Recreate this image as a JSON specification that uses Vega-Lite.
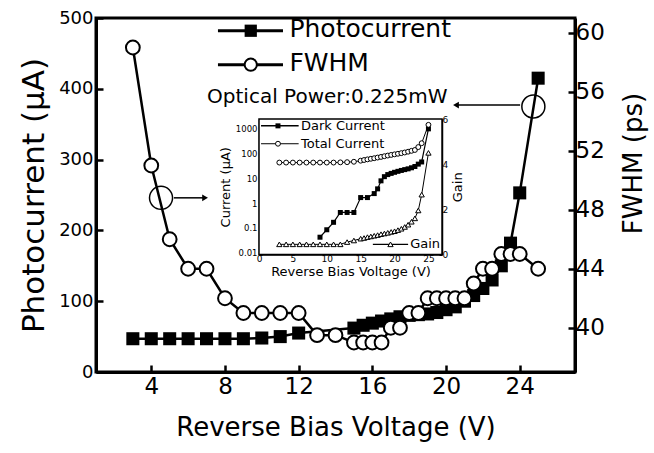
{
  "$schema": "https://vega.github.io/schema/vega-lite/v6.json",
  "width": 479,
  "height": 354,
  "autosize": {"type": "none"},
  "padding": {"left": 96, "top": 18, "right": 79, "bottom": 81},
  "background": "white",
  "config": {
    "font": "DejaVu Sans",
    "view": {"stroke": "black", "strokeWidth": 3},
    "axis": {"grid": false, "domainColor": "black", "tickColor": "black", "labelColor": "black", "titleColor": "black", "titleFontWeight": "normal", "labelFlush": false, "labelOverlap": false}
  },
  "datasets": {
    "photo": [{"V":3,"I":47},{"V":4,"I":47},{"V":5,"I":47},{"V":6,"I":47},{"V":7,"I":47},{"V":8,"I":47},{"V":9,"I":47},{"V":10,"I":48},{"V":11,"I":50},{"V":12,"I":55},{"V":15,"I":62},{"V":15.5,"I":66},{"V":16,"I":69},{"V":16.5,"I":72},{"V":17,"I":75},{"V":17.5,"I":78},{"V":18,"I":80},{"V":18.5,"I":81},{"V":19,"I":82},{"V":19.5,"I":84},{"V":20,"I":88},{"V":20.5,"I":92},{"V":21,"I":100},{"V":21.5,"I":108},{"V":22,"I":118},{"V":22.5,"I":130},{"V":23,"I":150},{"V":23.5,"I":182},{"V":24,"I":253},{"V":25,"I":415}],
    "fwhm": [{"V":3,"F":59},{"V":4,"F":51},{"V":5,"F":46},{"V":6,"F":44},{"V":7,"F":44},{"V":8,"F":42},{"V":9,"F":41},{"V":10,"F":41},{"V":11,"F":41},{"V":12,"F":41},{"V":13,"F":39.5},{"V":14,"F":39.5},{"V":15,"F":39},{"V":15.5,"F":39},{"V":16,"F":39},{"V":16.5,"F":39},{"V":17,"F":40},{"V":17.5,"F":40},{"V":18,"F":41},{"V":18.5,"F":41},{"V":19,"F":42},{"V":19.5,"F":42},{"V":20,"F":42},{"V":20.5,"F":42},{"V":21,"F":42},{"V":21.5,"F":43},{"V":22,"F":44},{"V":22.5,"F":44},{"V":23,"F":45},{"V":23.5,"F":45},{"V":24,"F":45},{"V":25,"F":44}],
    "dark": [{"V":9,"I":0.05},{"V":10,"I":0.1},{"V":11,"I":0.2},{"V":12,"I":0.5},{"V":13,"I":0.5},{"V":14,"I":0.5},{"V":15,"I":2},{"V":16,"I":2},{"V":17,"I":2.9},{"V":17.5,"I":4.5},{"V":18,"I":9.5},{"V":18.5,"I":14},{"V":19,"I":17},{"V":19.5,"I":19},{"V":20,"I":21},{"V":20.5,"I":23},{"V":21,"I":25},{"V":21.5,"I":27},{"V":22,"I":29},{"V":22.5,"I":32},{"V":23,"I":36},{"V":23.5,"I":45},{"V":24,"I":55},{"V":25,"I":1200}],
    "total": [{"V":3,"I":52},{"V":4,"I":52},{"V":5,"I":52},{"V":6,"I":52},{"V":7,"I":52},{"V":8,"I":52},{"V":9,"I":52},{"V":10,"I":52},{"V":11,"I":52},{"V":12,"I":53},{"V":13,"I":54},{"V":14,"I":56},{"V":15,"I":62},{"V":15.5,"I":66},{"V":16,"I":70},{"V":16.5,"I":74},{"V":17,"I":78},{"V":17.5,"I":83},{"V":18,"I":88},{"V":18.5,"I":94},{"V":19,"I":100},{"V":19.5,"I":106},{"V":20,"I":112},{"V":20.5,"I":118},{"V":21,"I":125},{"V":21.5,"I":133},{"V":22,"I":143},{"V":22.5,"I":155},{"V":23,"I":168},{"V":23.5,"I":220},{"V":24,"I":315},{"V":25,"I":1740}],
    "gain": [{"V":3,"G":0.45},{"V":4,"G":0.45},{"V":5,"G":0.45},{"V":6,"G":0.45},{"V":7,"G":0.45},{"V":8,"G":0.45},{"V":9,"G":0.45},{"V":10,"G":0.45},{"V":11,"G":0.45},{"V":12,"G":0.45},{"V":13,"G":0.55},{"V":14,"G":0.62},{"V":15,"G":0.7},{"V":15.5,"G":0.73},{"V":16,"G":0.77},{"V":16.5,"G":0.8},{"V":17,"G":0.83},{"V":17.5,"G":0.86},{"V":18,"G":0.9},{"V":18.5,"G":0.93},{"V":19,"G":0.96},{"V":19.5,"G":1.0},{"V":20,"G":1.03},{"V":20.5,"G":1.08},{"V":21,"G":1.14},{"V":21.5,"G":1.22},{"V":22,"G":1.32},{"V":22.5,"G":1.45},{"V":23,"G":1.6},{"V":23.5,"G":1.95},{"V":24,"G":2.65},{"V":25,"G":4.5}]
  },
  "layer": [
    {
      "layer": [
        {
          "layer": [
            {"data": {"name": "photo"}, "mark": {"type": "line", "color": "black", "strokeWidth": 2.5},
              "encoding": {
                "x": {"field": "V", "type": "quantitative", "scale": {"domain": [1, 27], "nice": false, "zero": false},
                  "axis": {"orient": "bottom", "values": [4, 8, 12, 16, 20, 24], "title": "Reverse Bias Voltage (V)", "tickSize": -7, "tickWidth": 2.5, "domainWidth": 3, "labelFontSize": 23, "labelPadding": 10, "titleFontSize": 26, "titlePadding": 16}},
                "y": {"field": "I", "type": "quantitative", "scale": {"domain": [0, 500], "nice": false},
                  "axis": {"orient": "left", "values": [0, 100, 200, 300, 400, 500], "title": "Photocurrent (μA)", "tickSize": -7, "tickWidth": 2.5, "domainWidth": 3, "labelFontSize": 18, "labelPadding": 10, "titleFontSize": 31, "titlePadding": 8}}
              }},
            {"data": {"name": "photo"}, "mark": {"type": "point", "shape": "square", "filled": true, "color": "black", "size": 170, "opacity": 1},
              "encoding": {"x": {"field": "V", "type": "quantitative"}, "y": {"field": "I", "type": "quantitative"}}},
            {"data": {"values": [{}]}, "mark": {"type": "rule", "color": "black", "strokeWidth": 3}, "encoding": {"x": {"datum": 7.62}, "x2": {"datum": 11.15}, "y": {"datum": 482}}},
            {"data": {"values": [{}]}, "mark": {"type": "point", "shape": "square", "filled": true, "color": "black", "size": 150, "opacity": 1}, "encoding": {"x": {"datum": 9.4}, "y": {"datum": 482}}},
            {"data": {"values": [{}]}, "mark": {"type": "text", "text": "Photocurrent", "align": "left", "baseline": "middle", "fontSize": 25, "color": "black"}, "encoding": {"x": {"datum": 11.5}, "y": {"datum": 484}}},
            {"data": {"values": [{}]}, "mark": {"type": "rule", "color": "black", "strokeWidth": 3}, "encoding": {"x": {"datum": 7.62}, "x2": {"datum": 11.15}, "y": {"datum": 434}}},
            {"data": {"values": [{}]}, "mark": {"type": "point", "shape": "circle", "filled": true, "fill": "white", "stroke": "black", "strokeWidth": 2, "size": 150, "opacity": 1}, "encoding": {"x": {"datum": 9.4}, "y": {"datum": 434}}},
            {"data": {"values": [{}]}, "mark": {"type": "text", "text": "FWHM", "align": "left", "baseline": "middle", "fontSize": 25, "color": "black"}, "encoding": {"x": {"datum": 11.5}, "y": {"datum": 436}}},
            {"data": {"values": [{}]}, "mark": {"type": "text", "text": "Optical Power:0.225mW", "align": "left", "baseline": "middle", "fontSize": 20, "color": "black"}, "encoding": {"x": {"datum": 7.03}, "y": {"datum": 388}}},
            {"data": {"values": [{}]}, "mark": {"type": "point", "shape": "circle", "filled": false, "stroke": "black", "strokeWidth": 1.5, "size": 531, "opacity": 1}, "encoding": {"x": {"datum": 4.53}, "y": {"datum": 246}}},
            {"data": {"values": [{}]}, "mark": {"type": "rule", "color": "black", "strokeWidth": 1.5}, "encoding": {"x": {"datum": 5.23}, "x2": {"datum": 6.9}, "y": {"datum": 246}}},
            {"data": {"values": [{}]}, "mark": {"type": "point", "shape": "triangle-right", "filled": true, "color": "black", "size": 45, "opacity": 1}, "encoding": {"x": {"datum": 6.92}, "y": {"datum": 246}}},
            {"data": {"values": [{}]}, "mark": {"type": "point", "shape": "circle", "filled": false, "stroke": "black", "strokeWidth": 1.5, "size": 531, "opacity": 1}, "encoding": {"x": {"datum": 24.74}, "y": {"datum": 375}}},
            {"data": {"values": [{}]}, "mark": {"type": "rule", "color": "black", "strokeWidth": 1.5}, "encoding": {"x": {"datum": 20.55}, "x2": {"datum": 24.02}, "y": {"datum": 377}}},
            {"data": {"values": [{}]}, "mark": {"type": "point", "shape": "triangle-left", "filled": true, "color": "black", "size": 45, "opacity": 1}, "encoding": {"x": {"datum": 20.54}, "y": {"datum": 377}}}
          ]
        },
        {
          "layer": [
            {"data": {"name": "fwhm"}, "mark": {"type": "line", "color": "black", "strokeWidth": 2.5},
              "encoding": {
                "x": {"field": "V", "type": "quantitative"},
                "y": {"field": "F", "type": "quantitative", "scale": {"domain": [37, 61], "nice": false, "zero": false},
                  "axis": {"orient": "right", "values": [40, 44, 48, 52, 56, 60], "title": "FWHM (ps)", "titleAngle": 270, "titleBaseline": "top", "titleY": 145, "tickSize": -7, "tickWidth": 2.5, "domainWidth": 3, "labelFontSize": 23, "labelPadding": 7, "titleFontSize": 26, "titlePadding": 16}}
              }},
            {"data": {"name": "fwhm"}, "mark": {"type": "point", "shape": "circle", "filled": true, "fill": "white", "stroke": "black", "strokeWidth": 2, "size": 190, "opacity": 1},
              "encoding": {"x": {"field": "V", "type": "quantitative"}, "y": {"field": "F", "type": "quantitative"}}}
          ]
        }
      ],
      "resolve": {"scale": {"y": "independent"}, "axis": {"y": "independent"}}
    },
    {
      "layer": [
        {
          "layer": [
            {"data": {"values": [{}]}, "mark": {"type": "rect", "fill": "white", "stroke": "black", "strokeWidth": 1.5},
              "encoding": {
                "x": {"datum": 0, "type": "quantitative", "scale": {"domain": [0, 27], "range": [163, 346], "nice": false, "zero": false},
                  "axis": {"orient": "bottom", "offset": -117.5, "values": [0, 5, 10, 15, 20, 25], "title": "Reverse Bias Voltage (V)", "tickSize": -3, "tickWidth": 1, "domainWidth": 1.5, "labelFontSize": 9, "labelPadding": 3, "titleFontSize": 13, "titlePadding": 2}},
                "x2": {"datum": 27},
                "y": {"datum": 0.01, "type": "quantitative", "scale": {"type": "log", "domain": [0.01, 3000], "range": [236.5, 101], "nice": false},
                  "axis": {"orient": "left", "offset": -163, "values": [0.01, 0.1, 1, 10, 100, 1000], "format": "~g", "title": "Current (μA)", "tickSize": -3, "tickWidth": 1, "domainWidth": 1.5, "labelFontSize": 8.5, "labelPadding": 5, "labelOffset": -2, "titleFontSize": 13, "titlePadding": 3}},
                "y2": {"datum": 3000}
              }},
            {"data": {"name": "dark"}, "mark": {"type": "line", "color": "black", "strokeWidth": 1.2},
              "encoding": {"x": {"field": "V", "type": "quantitative"}, "y": {"field": "I", "type": "quantitative"}}},
            {"data": {"name": "dark"}, "mark": {"type": "point", "shape": "square", "filled": true, "color": "black", "size": 25, "opacity": 1},
              "encoding": {"x": {"field": "V", "type": "quantitative"}, "y": {"field": "I", "type": "quantitative"}}},
            {"data": {"name": "total"}, "mark": {"type": "line", "color": "black", "strokeWidth": 1},
              "encoding": {"x": {"field": "V", "type": "quantitative"}, "y": {"field": "I", "type": "quantitative"}}},
            {"data": {"name": "total"}, "mark": {"type": "point", "shape": "circle", "filled": true, "fill": "white", "stroke": "black", "strokeWidth": 1, "size": 24, "opacity": 1},
              "encoding": {"x": {"field": "V", "type": "quantitative"}, "y": {"field": "I", "type": "quantitative"}}},
            {"data": {"values": [{}]}, "mark": {"type": "rule", "color": "black", "strokeWidth": 1.5}, "encoding": {"x": {"datum": 0.3}, "x2": {"datum": 5.85}, "y": {"datum": 1585}}},
            {"data": {"values": [{}]}, "mark": {"type": "point", "shape": "square", "filled": true, "color": "black", "size": 25, "opacity": 1}, "encoding": {"x": {"datum": 2.8}, "y": {"datum": 1585}}},
            {"data": {"values": [{}]}, "mark": {"type": "text", "text": "Dark Current", "align": "left", "baseline": "middle", "fontSize": 13, "color": "black"}, "encoding": {"x": {"datum": 6.2}, "y": {"datum": 1585}}},
            {"data": {"values": [{}]}, "mark": {"type": "rule", "color": "black", "strokeWidth": 1}, "encoding": {"x": {"datum": 0.3}, "x2": {"datum": 5.85}, "y": {"datum": 300}}},
            {"data": {"values": [{}]}, "mark": {"type": "point", "shape": "circle", "filled": true, "fill": "white", "stroke": "black", "strokeWidth": 1, "size": 24, "opacity": 1}, "encoding": {"x": {"datum": 2.8}, "y": {"datum": 300}}},
            {"data": {"values": [{}]}, "mark": {"type": "text", "text": "Total Current", "align": "left", "baseline": "middle", "fontSize": 13, "color": "black"}, "encoding": {"x": {"datum": 6.2}, "y": {"datum": 300}}}
          ]
        },
        {
          "layer": [
            {"data": {"name": "gain"}, "mark": {"type": "line", "color": "black", "strokeWidth": 1},
              "encoding": {
                "x": {"field": "V", "type": "quantitative"},
                "y": {"field": "G", "type": "quantitative", "scale": {"domain": [0, 6], "range": [236.5, 101], "nice": false},
                  "axis": {"orient": "right", "offset": -133, "values": [0, 2, 4, 6], "format": "d", "title": "Gain", "titleAngle": 270, "titleBaseline": "top", "tickSize": -3, "tickWidth": 1, "domainWidth": 1.5, "labelFontSize": 9, "labelPadding": 3, "titleFontSize": 13, "titlePadding": 4}}
              }},
            {"data": {"name": "gain"}, "mark": {"type": "point", "shape": "triangle-up", "filled": true, "fill": "white", "stroke": "black", "strokeWidth": 1, "size": 28, "opacity": 1},
              "encoding": {"x": {"field": "V", "type": "quantitative"}, "y": {"field": "G", "type": "quantitative"}}},
            {"data": {"values": [{}]}, "mark": {"type": "rule", "color": "black", "strokeWidth": 1.2}, "encoding": {"x": {"datum": 16.8}, "x2": {"datum": 22.0}, "y": {"datum": 0.45}}},
            {"data": {"values": [{}]}, "mark": {"type": "point", "shape": "triangle-up", "filled": true, "fill": "white", "stroke": "black", "strokeWidth": 1, "size": 28, "opacity": 1}, "encoding": {"x": {"datum": 19.4}, "y": {"datum": 0.45}}},
            {"data": {"values": [{}]}, "mark": {"type": "text", "text": "Gain", "align": "left", "baseline": "middle", "fontSize": 13, "color": "black"}, "encoding": {"x": {"datum": 22.3}, "y": {"datum": 0.45}}}
          ]
        }
      ],
      "resolve": {"scale": {"y": "independent"}, "axis": {"y": "independent"}}
    }
  ],
  "resolve": {"scale": {"x": "independent", "y": "independent"}, "axis": {"x": "independent", "y": "independent"}}
}
